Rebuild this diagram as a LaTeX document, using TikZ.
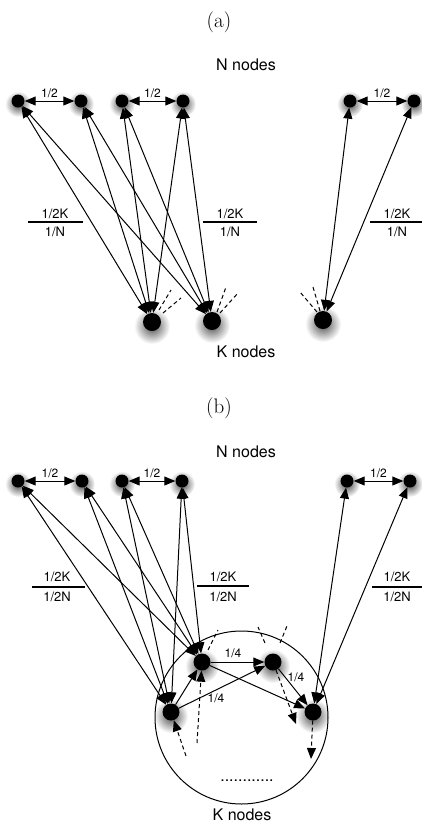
\documentclass[tikz,border=0pt]{standalone}
\usepackage{fontspec}
\newfontfamily\hv{TeX Gyre Heros}
\usetikzlibrary{arrows.meta}
\pgfdeclarelayer{bg}
\pgfsetlayers{bg,main}
\tikzset{
  ndot/.style={circle,fill=black,inner sep=0pt,minimum size=13pt},
  kdot/.style={circle,fill=black,inner sep=0pt,minimum size=18pt},
  kbdot/.style={circle,fill=black,inner sep=0pt,minimum size=17pt},
  shd/.style={inner color=black!70,outer color=white},
  big/.style={font=\hv\fontsize{16}{16}\selectfont},
  ttl/.style={font=\fontsize{21}{21}\selectfont},
  half/.style={font=\hv\fontsize{12}{12}\selectfont,inner sep=1pt},
  frac/.style={font=\hv\fontsize{13}{13}\selectfont,inner sep=0pt},
  tip/.tip={Triangle[length=11pt,width=9pt]},
  con/.style={tip-tip,line width=1pt},
  one/.style={-tip,line width=1pt},
  dsh/.style={dash pattern=on 4pt off 3pt,line width=1pt},
  rule/.style={line width=1.4pt}
}
\begin{document}
\begin{tikzpicture}[x=1pt,y=-1pt]
\useasboundingbox (0,0) rectangle (422,823);
% ---------------- panel (a)
\node[ttl] (ta) at (219,22) {(a)};
\node[big] (na) at (246,65) {N nodes};
\node[big] (kna) at (246,352) {K nodes};
\node[ndot] (a1) at (18,101) {};
\node[ndot] (a2) at (81,101) {};
\node[ndot] (a3) at (122,101) {};
\node[ndot] (a4) at (183,101) {};
\node[ndot] (a5) at (350,101) {};
\node[ndot] (a6) at (414,101) {};
\node[kdot] (k1) at (152,322) {};
\node[kdot] (k2) at (212,321) {};
\node[kdot] (k3) at (323,320) {};
\begin{pgfonlayer}{bg}
\foreach \n in {a1,a2,a3,a4,a5,a6}{\shade[shd] ([yshift=-3pt]\n.center) circle (13pt);}
\foreach \n in {k1,k2,k3}{\shade[shd] ([yshift=-4pt]\n.center) circle (18pt);}
\end{pgfonlayer}
\draw[con] (a1) -- node[half,above=2pt] (ha1) {1/2} (a2);
\draw[con] (a3) -- node[half,above=2pt] (ha2) {1/2} (a4);
\draw[con] (a5) -- node[half,above=2pt] (ha3) {1/2} (a6);
\foreach \n in {a1,a2,a3,a4}{\draw[con] (\n) -- (k1); \draw[con] (\n) -- (k2);}
\draw[con] (a5) -- (k3);
\draw[con] (a6) -- (k3);
% fractions
\node[frac] (fa1n) at (55,214) {1/2K};
\node[frac] (fa1d) at (55,232) {1/N};
\draw[rule] (28,222) -- (83,222);
\node[frac] (fa2n) at (230,214) {1/2K};
\node[frac] (fa2d) at (230,232) {1/N};
\draw[rule] (203,222) -- (257,222);
\node[frac] (fa3n) at (397,214) {1/2K};
\node[frac] (fa3d) at (397,232) {1/N};
\draw[rule] (370,222) -- (422,222);
% dashed stubs
\draw[dsh] (159,310) -- (171,290);
\draw[dsh] (163,313) -- (181,298);
\draw[dsh] (217,312) -- (226,287);
\draw[dsh] (220,313) -- (238,293);
\draw[dsh] (317,312) -- (300,292);
\draw[dsh] (320,311) -- (313,287);
% ---------------- panel (b)
\node[ttl] (tb) at (219,408) {(b)};
\node[big] (nb) at (246,452) {N nodes};
\node[big] (knb) at (242,815) {K nodes};
\node[ndot] (b1) at (18,481) {};
\node[ndot] (b2) at (82,481) {};
\node[ndot] (b3) at (122,481) {};
\node[ndot] (b4) at (182,481) {};
\node[ndot] (b5) at (347,481) {};
\node[ndot] (b6) at (410,481) {};
\node[kbdot] (ka) at (202,662) {};
\node[kbdot] (kb) at (171,712) {};
\node[kbdot] (kc) at (273,662) {};
\node[kbdot] (kd) at (313,712) {};
\begin{pgfonlayer}{bg}
\foreach \n in {b1,b2,b3,b4,b5,b6}{\shade[shd] ([yshift=-3pt]\n.center) circle (13pt);}
\foreach \n in {ka,kb,kc,kd}{\shade[shd] ([yshift=-4pt]\n.center) circle (17pt);}
\end{pgfonlayer}
\draw[line width=1pt] (241.5,717.5) circle (86.5);
\draw[con] (b1) -- node[half,above=2pt] (hb1) {1/2} (b2);
\draw[con] (b3) -- node[half,above=2pt] (hb2) {1/2} (b4);
\draw[con] (b5) -- node[half,above=2pt] (hb3) {1/2} (b6);
\foreach \n in {b1,b2,b3,b4}{\draw[con] (\n) -- (ka); \draw[con] (\n) -- (kb);}
\draw[con] (b5) -- (kd);
\draw[con] (b6) -- (kd);
% fractions
\node[frac] (fb1n) at (57,577) {1/2K};
\node[frac] (fb1d) at (57,597) {1/2N};
\draw[rule] (32,587) -- (85,587);
\node[frac] (fb2n) at (223,577) {1/2K};
\node[frac] (fb2d) at (223,597) {1/2N};
\draw[rule] (197,586) -- (249,586);
\node[frac] (fb3n) at (397,577) {1/2K};
\node[frac] (fb3d) at (397,597) {1/2N};
\draw[rule] (372,587) -- (422,587);
% internal arrows
\draw[one] (ka) -- (kc);
\draw[one] (kb) -- (ka);
\draw[one] (kb) -- (kc);
\draw[one] (ka) -- (kd);
\draw[one] (kc) -- (kd);
\node[half] (q1) at (233,653) {1/4};
\node[half] (q2) at (216,698) {1/4};
\node[half] (q3) at (296,677) {1/4};
% dashed
\coordinate (e1) at (296,724);
\coordinate (e2) at (311,759);
\coordinate (s1) at (186,756);
\coordinate (s2) at (197,743);
\draw[dsh,-tip] (kc) -- (e1);
\draw[dsh,-tip] (kd) -- (e2);
\draw[dsh,-tip] (s1) -- (kb);
\draw[dsh,-tip] (s2) -- (ka);
\draw[dsh] (208,650) -- (218,630);
\draw[dsh] (265,643) -- (258,627);
\draw[dsh] (280,643) -- (287,626);
\node[font=\hv\fontsize{16}{16}\selectfont] (dots) at (247,781) {............};
\end{tikzpicture}
\end{document}
